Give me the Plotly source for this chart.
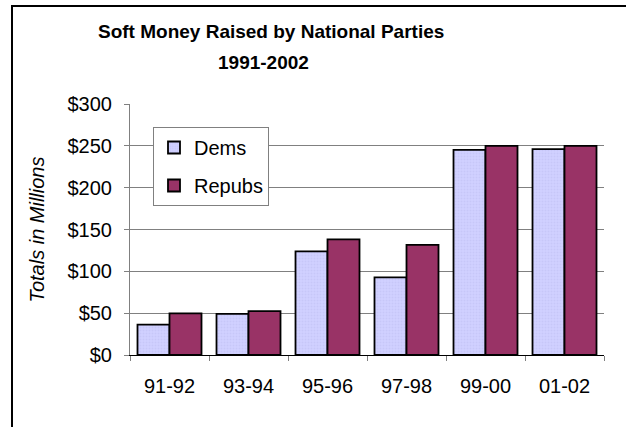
import plotly.graph_objects as go

periods = ["91-92", "93-94", "95-96", "97-98", "99-00", "01-02"]
dems = [36.3, 49.1, 123.9, 92.8, 245.2, 246.1]
repubs = [49.8, 52.5, 138.2, 131.6, 249.9, 250.0]
y_ticks = [0, 50, 100, 150, 200, 250, 300]
y_tick_labels = ["$0", "$50", "$100", "$150", "$200", "$250", "$300"]
title_line1 = "Soft Money Raised by National Parties"
title_line2 = "1991-2002"

FONT = "Liberation Sans, Arial, sans-serif"

fig = go.Figure()
fig.add_trace(go.Bar(
    x=periods, y=dems, name="Dems", legendgroup="d",
    marker=dict(color="#CCCCFF",
                line=dict(color="#000000", width=1.8),
                pattern=dict(shape=".", fgcolor="#BDBDF2", bgcolor="#D0D0FF",
                             size=3, solidity=0.35)),
))
fig.add_trace(go.Bar(
    x=periods, y=repubs, name="Repubs", legendgroup="r",
    marker=dict(color="#993366", line=dict(color="#000000", width=1.8)),
))

W, H = 626, 427
L, R, T, B = 130, 22, 104, 72
pw, ph = W - L - R, H - T - B

def px(x):
    return (x - L) / pw

def py(y):
    return (H - B - y) / ph

fig.update_layout(
    width=W, height=H,
    margin=dict(l=L, r=R, t=T, b=B, autoexpand=False),
    paper_bgcolor="#FFFFFF", plot_bgcolor="#FFFFFF",
    font=dict(family=FONT, size=20, color="#000000"),
    barmode="group", bargap=0.19, bargroupgap=0,
    showlegend=True,
    legend=dict(
        x=px(153), y=py(127), xanchor="left", yanchor="top",
        bgcolor="#FFFFFF", bordercolor="#808080", borderwidth=1,
        font=dict(family=FONT, size=20, color="#000000"),
        traceorder="grouped", tracegroupgap=9,
    ),
    xaxis=dict(
        type="category", tickson="boundaries",
        ticks="outside", ticklen=5, tickcolor="#808080",
        showline=True, linecolor="#000000", linewidth=1,
        showgrid=False, tickfont=dict(size=20), ticklabelstandoff=13,
    ),
    yaxis=dict(
        range=[0, 300], tickvals=y_ticks, ticktext=y_tick_labels,
        ticks="outside", ticklen=5, tickcolor="#808080",
        showline=True, linecolor="#808080", linewidth=1,
        showgrid=True, gridcolor="#808080", gridwidth=1,
        zeroline=False, tickfont=dict(size=20), ticklabelstandoff=8,
        title=dict(text="<i>Totals in Millions</i>", font=dict(size=20), standoff=17),
    ),
    annotations=[
        dict(text="<b>" + title_line1 + "</b>", xref="paper", yref="paper",
             x=px(271), y=py(31), xanchor="center", yanchor="middle",
             showarrow=False, font=dict(family=FONT, size=19)),
        dict(text="<b>" + title_line2 + "</b>", xref="paper", yref="paper",
             x=px(263), y=py(63), xanchor="center", yanchor="middle",
             showarrow=False, font=dict(family=FONT, size=19)),
    ],
    shapes=[
        dict(type="rect", xref="paper", yref="paper",
             x0=px(12), x1=px(640), y0=py(440), y1=py(6),
             line=dict(color="#000000", width=2), fillcolor="rgba(0,0,0,0)",
             layer="below"),
    ],
)

fig.write_html("out.html", config={"displayModeBar": False},
               post_script="document.body.style.margin='0';document.body.style.padding='0';")
